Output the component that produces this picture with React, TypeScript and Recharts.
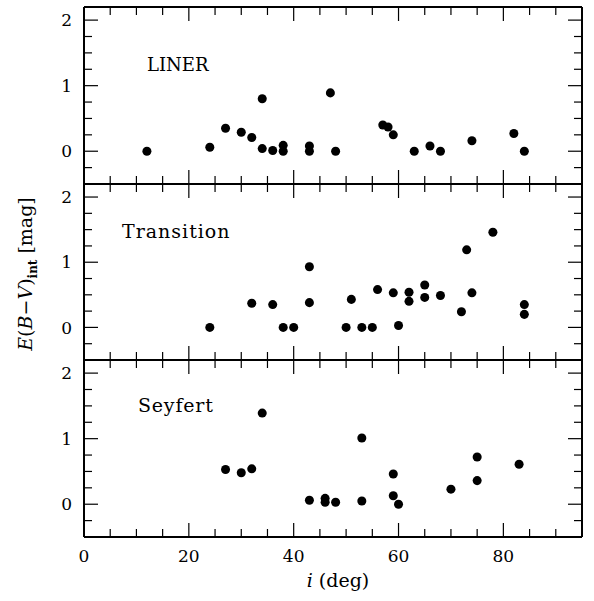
import { Scatter, ScatterChart, XAxis, YAxis, ZAxis } from "recharts";

// inclination (deg) and intrinsic E(B-V) (mag) per class
const linerIncl = [12, 24, 27, 30, 32, 34, 34, 36, 38, 38, 43, 43, 47, 48, 57, 58, 59, 63, 66, 68, 74, 82, 84];
const linerEbv = [0, 0.06, 0.35, 0.29, 0.21, 0.8, 0.04, 0.01, 0.09, 0, 0.08, 0, 0.89, 0, 0.4, 0.37, 0.25, 0, 0.08, 0, 0.16, 0.27, 0];

const transIncl = [24, 32, 36, 38, 40, 43, 43, 50, 51, 53, 55, 56, 59, 60, 62, 62, 65, 65, 68, 72, 73, 74, 78, 84, 84];
const transEbv = [0, 0.37, 0.35, 0, 0, 0.93, 0.38, 0, 0.43, 0, 0, 0.58, 0.53, 0.03, 0.54, 0.4, 0.65, 0.46, 0.49, 0.24, 1.19, 0.53, 1.46, 0.35, 0.2];

const seyIncl = [27, 30, 32, 34, 43, 46, 46, 48, 53, 53, 59, 59, 60, 70, 75, 75, 83];
const seyEbv = [0.53, 0.48, 0.54, 1.39, 0.06, 0.09, 0.03, 0.03, 1.01, 0.05, 0.46, 0.13, 0, 0.23, 0.72, 0.36, 0.61];

const xTicks = [0, 5, 10, 15, 20, 25, 30, 35, 40, 45, 50, 55, 60, 65, 70, 75, 80, 85, 90, 95];
const yTicks = [-0.25, 0, 0.25, 0.5, 0.75, 1, 1.25, 1.5, 1.75, 2];

const FONT = "'DejaVu Serif', serif";

const toPoints = (xs: number[], ys: number[]) => xs.map((x, i) => ({ x, y: ys[i] }));

const isMajorX = (v: number) => v % 20 === 0;
const isMajorY = (v: number) => Math.abs(v - Math.round(v)) < 1e-6;

// ticks point into the plot, like the original
function XTick({ x, y, payload, side, labels }: any) {
  const major = isMajorX(payload.value);
  const len = major ? 14 : 8;
  const dir = side === "top" ? 1 : -1;
  return (
    <g>
      <line x1={x} y1={y} x2={x} y2={y + dir * len} stroke="#000" strokeWidth={1.2} />
      {labels && major ? (
        <text x={x} y={y + 25} textAnchor="middle" fontFamily={FONT} fontSize={17} fill="#000">
          {payload.value}
        </text>
      ) : null}
    </g>
  );
}

function YTick({ x, y, payload, side }: any) {
  const major = isMajorY(payload.value);
  const len = major ? 14 : 8;
  const dir = side === "right" ? -1 : 1;
  return (
    <g>
      <line x1={x} y1={y} x2={x + dir * len} y2={y} stroke="#000" strokeWidth={1.2} />
      {side === "left" && major ? (
        <text x={x - 12} y={y} dy="0.36em" textAnchor="end" fontFamily={FONT} fontSize={17} fill="#000">
          {payload.value}
        </text>
      ) : null}
    </g>
  );
}

const axisLine = { stroke: "#000", strokeWidth: 2 };

type PanelProps = {
  data: { x: number; y: number }[];
  top: number;
  height: number;
  marginTop: number;
  marginBottom: number;
  bottomHeight: number;
  labels?: boolean;
};

function Panel({ data, top, height, marginTop, marginBottom, bottomHeight, labels }: PanelProps) {
  return (
    <div style={{ position: "absolute", left: 0, top }}>
      <ScatterChart
        width={594}
        height={height}
        margin={{ top: marginTop, right: 11, bottom: marginBottom, left: 0 }}
      >
        <XAxis
          dataKey="x"
          type="number"
          domain={[0, 95]}
          ticks={xTicks}
          interval={0}
          height={bottomHeight}
          tickSize={0}
          tickMargin={0}
          axisLine={axisLine}
          tickLine={false}
          tick={(p: any) => <XTick {...p} side="bottom" labels={labels} />}
        />
        <XAxis
          xAxisId="top"
          orientation="top"
          dataKey="x"
          type="number"
          domain={[0, 95]}
          ticks={xTicks}
          interval={0}
          height={1}
          tickSize={0}
          tickMargin={0}
          axisLine={axisLine}
          tickLine={false}
          tick={(p: any) => <XTick {...p} side="top" />}
        />
        <YAxis
          dataKey="y"
          type="number"
          domain={[-0.5, 2.2]}
          ticks={yTicks}
          interval={0}
          width={84}
          tickSize={0}
          tickMargin={0}
          axisLine={axisLine}
          tickLine={false}
          tick={(p: any) => <YTick {...p} side="left" />}
        />
        <YAxis
          yAxisId="right"
          orientation="right"
          dataKey="y"
          type="number"
          domain={[-0.5, 2.2]}
          ticks={yTicks}
          interval={0}
          width={1}
          tickSize={0}
          tickMargin={0}
          axisLine={axisLine}
          tickLine={false}
          tick={(p: any) => <YTick {...p} side="right" />}
        />
        <ZAxis range={[62, 62]} />
        <Scatter data={data} fill="#000" isAnimationActive={false} />
        <Scatter data={data} xAxisId="top" yAxisId="right" fill="none" isAnimationActive={false} />
      </ScatterChart>
    </div>
  );
}

export default function App() {
  return (
    <div style={{ position: "absolute", left: 0, top: 0, width: 594, height: 601, background: "#fff" }}>
      <Panel data={toPoints(linerIncl, linerEbv)} top={0} height={190} marginTop={6} marginBottom={5} bottomHeight={1} />
      <Panel data={toPoints(transIncl, transEbv)} top={178} height={188} marginTop={5} marginBottom={5} bottomHeight={1} />
      <Panel data={toPoints(seyIncl, seyEbv)} top={354} height={247} marginTop={5} marginBottom={0} bottomHeight={64} labels />
      <svg
        width={594}
        height={601}
        style={{ position: "absolute", left: 0, top: 0, pointerEvents: "none" }}
        fontFamily={FONT}
        fill="#000"
      >
        <text x={147} y={71} fontSize={18}>LINER</text>
        <text x={122} y={238} fontSize={19} letterSpacing={1}>Transition</text>
        <text x={138} y={412} fontSize={19} letterSpacing={0.8}>Seyfert</text>
        <text x={338} y={587} fontSize={19} textAnchor="middle">
          <tspan fontStyle="italic">i</tspan>
          <tspan>{"  (deg)"}</tspan>
        </text>
        <text transform="translate(32 274) rotate(-90)" fontSize={19} textAnchor="middle">
          <tspan fontStyle="italic">E</tspan>
          <tspan>(</tspan>
          <tspan fontStyle="italic">B</tspan>
          <tspan>−</tspan>
          <tspan fontStyle="italic">V</tspan>
          <tspan>)</tspan>
          <tspan fontSize={12} fontWeight="bold" dy={5}>int</tspan>
          <tspan dy={-5}>{"   [mag]"}</tspan>
        </text>
      </svg>
    </div>
  );
}
